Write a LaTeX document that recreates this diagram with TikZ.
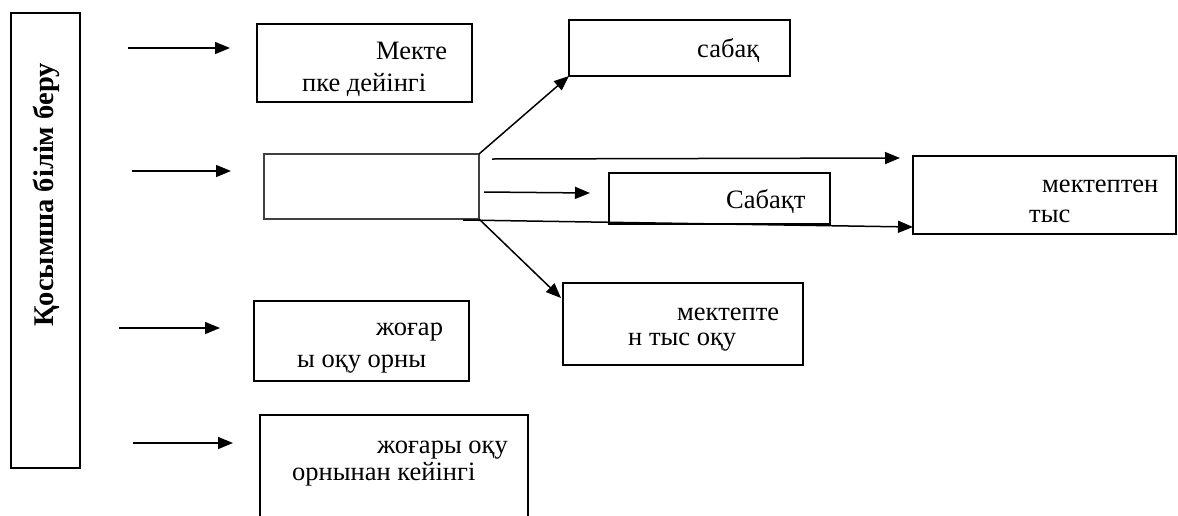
\documentclass[tikz,border=0pt]{standalone}
\usepackage{fontspec}
\setmainfont{Liberation Serif}
\usetikzlibrary{arrows.meta}
\begin{document}
\begin{tikzpicture}[x=1pt,y=-1pt,
  box/.style={draw, line width=1.8pt, inner sep=0pt, outer sep=0pt, anchor=north west},
  arr/.style={line width=1.5pt, -{Triangle[length=15pt,width=12pt]}},
  txt/.style={anchor=base west, inner sep=0pt, font=\fontsize{26.5}{30}\selectfont}]
\clip (0,0) rectangle (1178,515);
\fill[white] (0,0) rectangle (1178,515);
% boxes
\node[box, minimum width=69pt, minimum height=455pt] (L) at (11,13) {};
\node[rotate=90, anchor=base, inner sep=0pt, font=\fontsize{28.5}{32}\bfseries\selectfont] (Lt) at (53,195) {Қосымша білім беру};
\node[box, minimum width=215pt, minimum height=78pt] (m1) at (257,24) {};
\node[box, minimum width=221pt, minimum height=56pt] (s1) at (569,20) {};
\node[box, draw=black!75, line width=2.2pt, minimum width=215pt, minimum height=65pt] (e) at (264,154) {};
\node[box, minimum width=221pt, minimum height=51pt] (sb) at (609,173) {};
\node[box, minimum width=263pt, minimum height=78pt] (mt) at (913,156) {};
\node[box, minimum width=240pt, minimum height=82pt] (mtt) at (563,283) {};
\node[box, minimum width=215pt, minimum height=80pt] (zh) at (254,301) {};
\node[box, minimum width=268pt, minimum height=130pt] (zh2) at (260,415) {};
% texts
\node[txt] (t1a) at (376,59) {Мекте};
\node[txt] (t1b) at (302,91) {пке дейінгі};
\node[txt] (t2) at (697,57) {сабақ};
\node[txt] (t3) at (726,208) {Сабақт};
\node[txt] (t4a) at (1042,192) {мектептен};
\node[txt] (t4b) at (1029,222) {тыс};
\node[txt] (t5a) at (677,320) {мектепте};
\node[txt] (t5b) at (628,345) {н тыс оқу};
\node[txt] (t6a) at (376,335) {жоғар};
\node[txt] (t6b) at (297,367) {ы оқу орны};
\node[txt] (t7a) at (377,453) {жоғары оқу};
\node[txt] (t7b) at (292,480) {орнынан кейінгі};
% free arrow ends
\coordinate (a1s) at (128,48);  \coordinate (a1e) at (230,48);
\coordinate (a2s) at (132,171); \coordinate (a2e) at (231,171);
\coordinate (a3s) at (119,328); \coordinate (a3e) at (220,328);
\coordinate (a4s) at (133,443); \coordinate (a4e) at (233,443);
\coordinate (b1s) at (492,159); \coordinate (b1e) at (900,158);
\coordinate (b2s) at (484,192); \coordinate (b2e) at (590,193);
\coordinate (b3s) at (463,220); \coordinate (b3e) at (913,227);
\coordinate (b4e) at (561,298);
\draw[arr] (a1s) -- (a1e);
\draw[arr] (a2s) -- (a2e);
\draw[arr] (a3s) -- (a3e);
\draw[arr] (a4s) -- (a4e);
\draw[arr] (e.north east) -- (s1.south west);
\draw[arr] (b1s) -- (b1e);
\draw[arr] (b2s) -- (b2e);
\draw[arr] (b3s) -- (b3e);
\draw[arr] (e.south east) -- (b4e);
\end{tikzpicture}
\end{document}
